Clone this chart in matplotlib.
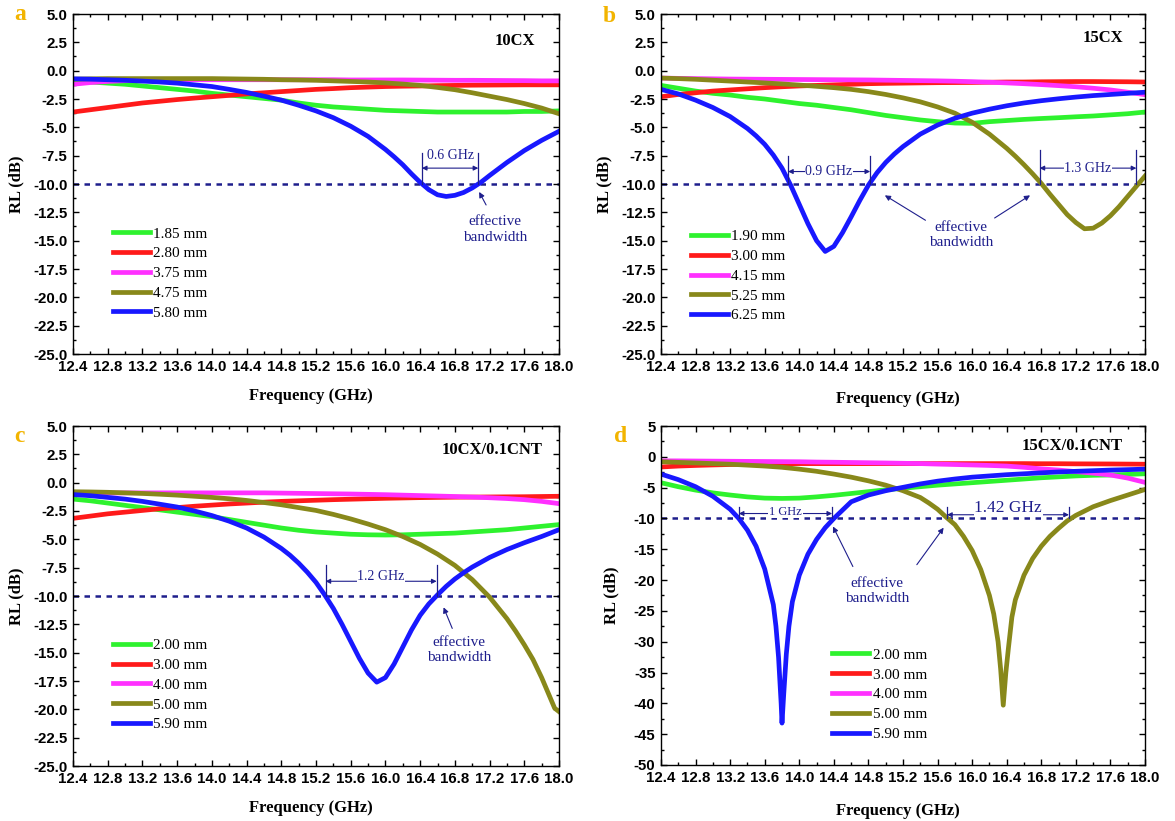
import numpy as np
import matplotlib
matplotlib.use('Agg')
import matplotlib.pyplot as plt
from matplotlib.ticker import MultipleLocator, FormatStrFormatter

plt.rcParams['axes.unicode_minus'] = False
plt.rcParams['font.family'] = 'Liberation Sans'

# common frequency grid (GHz)
grid = [12.4, 12.6, 12.8, 13.0, 13.2, 13.4, 13.6, 13.8, 14.0, 14.2, 14.4, 14.6, 14.8, 15.0,
        15.2, 15.4, 15.6, 15.8, 16.0, 16.2, 16.4, 16.6, 16.8, 17.0, 17.2, 17.4, 17.6, 17.8, 18.0]

# ---- a : 10CX ----
a_labels = ['1.85 mm', '2.80 mm', '3.75 mm', '4.75 mm', '5.80 mm']
a_185 = [-0.95, -1.0, -1.1, -1.2, -1.35, -1.5, -1.65, -1.8, -2.0, -2.15, -2.3, -2.45, -2.6, -2.85,
         -3.05, -3.2, -3.3, -3.4, -3.5, -3.55, -3.6, -3.65, -3.65, -3.65, -3.65, -3.65, -3.6, -3.6, -3.55]
a_280 = [-3.65, -3.45, -3.25, -3.05, -2.85, -2.7, -2.55, -2.42, -2.3, -2.18, -2.05, -1.95, -1.85, -1.75,
         -1.65, -1.58, -1.5, -1.45, -1.4, -1.37, -1.35, -1.32, -1.3, -1.28, -1.27, -1.26, -1.25, -1.25, -1.25]
a_375 = [-1.2, -1.05, -0.95, -0.88, -0.85, -0.82, -0.8, -0.8, -0.8, -0.8, -0.8, -0.8, -0.8, -0.8,
         -0.8, -0.8, -0.82, -0.82, -0.82, -0.82, -0.83, -0.84, -0.85, -0.85, -0.86, -0.87, -0.88, -0.9, -0.9]
a_475 = [-0.75, -0.72, -0.7, -0.7, -0.7, -0.7, -0.7, -0.7, -0.7, -0.72, -0.74, -0.76, -0.8, -0.82,
         -0.85, -0.9, -0.95, -1.0, -1.08, -1.18, -1.3, -1.48, -1.68, -1.95, -2.25, -2.55, -2.9, -3.3, -3.8]
a_580_f = [12.4, 12.6, 12.8, 13.0, 13.2, 13.4, 13.6, 13.8, 14.0, 14.2, 14.4, 14.6, 14.8, 15.0, 15.2, 15.4,
           15.6, 15.8, 16.0, 16.1, 16.2, 16.3, 16.4, 16.5, 16.6, 16.7, 16.8, 16.9, 17.0, 17.1, 17.2,
           17.4, 17.6, 17.8, 18.0]
a_580 = [-0.72, -0.75, -0.8, -0.85, -0.92, -1.0, -1.1, -1.25, -1.4, -1.65, -1.92, -2.25, -2.6, -3.05, -3.55, -4.15,
         -4.9, -5.8, -6.95, -7.6, -8.3, -9.1, -9.85, -10.5, -10.95, -11.1, -11.0, -10.75, -10.35, -9.85, -9.25,
         -8.1, -7.05, -6.15, -5.35]

# ---- b : 15CX ----
b_labels = ['1.90 mm', '3.00 mm', '4.15 mm', '5.25 mm', '6.25 mm']
b_190 = [-1.3, -1.55, -1.8, -2.0, -2.15, -2.35, -2.5, -2.7, -2.9, -3.05, -3.25, -3.45, -3.7, -3.95,
         -4.15, -4.35, -4.5, -4.62, -4.65, -4.5, -4.4, -4.3, -4.22, -4.15, -4.07, -4.0, -3.9, -3.8, -3.65]
b_300 = [-2.3, -2.1, -1.95, -1.8, -1.7, -1.6, -1.5, -1.42, -1.35, -1.3, -1.25, -1.2, -1.15, -1.12,
         -1.1, -1.08, -1.06, -1.05, -1.04, -1.02, -1.0, -1.0, -0.98, -0.97, -0.96, -0.96, -0.97, -0.98, -1.0]
b_415 = [-0.65, -0.68, -0.7, -0.72, -0.74, -0.75, -0.76, -0.77, -0.78, -0.79, -0.8, -0.81, -0.82, -0.84,
         -0.86, -0.88, -0.9, -0.93, -0.97, -1.02, -1.08, -1.15, -1.23, -1.32, -1.42, -1.55, -1.7, -1.9, -2.12]
b_525_f = [12.4, 12.6, 12.8, 13.0, 13.2, 13.4, 13.6, 13.8, 14.0, 14.2, 14.4, 14.6, 14.8, 15.0, 15.2, 15.4,
           15.6, 15.8, 16.0, 16.2, 16.4, 16.5, 16.6, 16.7, 16.8, 16.9, 17.0, 17.1, 17.2, 17.3, 17.4, 17.5,
           17.6, 17.7, 17.8, 17.9, 18.0]
b_525 = [-0.65, -0.7, -0.76, -0.84, -0.92, -1.0, -1.08, -1.17, -1.27, -1.38, -1.5, -1.65, -1.85, -2.1, -2.4, -2.75,
         -3.2, -3.75, -4.55, -5.6, -6.85, -7.55, -8.3, -9.1, -9.95, -10.9, -11.8, -12.7, -13.4, -13.95, -13.9, -13.45,
         -12.8, -12.0, -11.1, -10.2, -9.3]
b_625_f = [12.4, 12.6, 12.8, 13.0, 13.2, 13.4, 13.5, 13.6, 13.7, 13.8, 13.9, 14.0, 14.1, 14.2, 14.3, 14.4,
           14.5, 14.6, 14.7, 14.8, 14.9, 15.0, 15.1, 15.2, 15.4, 15.6, 15.8, 16.0, 16.2, 16.4, 16.6, 16.8,
           17.0, 17.2, 17.4, 17.6, 17.8, 18.0]
b_625 = [-1.65, -2.05, -2.6, -3.25, -4.05, -5.1, -5.75, -6.5, -7.45, -8.6, -10.1, -11.8, -13.5, -15.0, -15.95, -15.5,
         -14.3, -12.9, -11.45, -10.1, -9.0, -8.1, -7.35, -6.7, -5.6, -4.8, -4.2, -3.75, -3.4, -3.1, -2.85, -2.65,
         -2.48, -2.33, -2.2, -2.1, -2.0, -1.9]

# ---- c : 10CX/0.1CNT ----
c_labels = ['2.00 mm', '3.00 mm', '4.00 mm', '5.00 mm', '5.90 mm']
c_200 = [-1.45, -1.6, -1.8, -2.0, -2.2, -2.4, -2.6, -2.8, -3.0, -3.25, -3.5, -3.75, -4.0, -4.2,
         -4.35, -4.45, -4.55, -4.6, -4.62, -4.6, -4.55, -4.5, -4.45, -4.35, -4.25, -4.15, -4.0, -3.85, -3.7]
c_300 = [-3.15, -2.95, -2.75, -2.6, -2.45, -2.3, -2.2, -2.08, -1.98, -1.88, -1.8, -1.72, -1.65, -1.6,
         -1.55, -1.5, -1.46, -1.42, -1.38, -1.35, -1.32, -1.3, -1.28, -1.27, -1.26, -1.25, -1.24, -1.22, -1.2]
c_400 = [-1.0, -0.95, -0.92, -0.9, -0.9, -0.9, -0.9, -0.9, -0.9, -0.9, -0.9, -0.9, -0.92, -0.94,
         -0.96, -0.98, -1.0, -1.03, -1.06, -1.1, -1.14, -1.18, -1.22, -1.27, -1.33, -1.4, -1.5, -1.65, -1.85]
c_500_f = [12.4, 12.6, 12.8, 13.0, 13.2, 13.4, 13.6, 13.8, 14.0, 14.2, 14.4, 14.6, 14.8, 15.0, 15.2, 15.4,
           15.6, 15.8, 16.0, 16.2, 16.4, 16.6, 16.8, 17.0, 17.2, 17.4, 17.5, 17.6, 17.7, 17.8, 17.9, 17.95, 18.0]
c_500 = [-0.8, -0.82, -0.85, -0.9, -0.95, -1.02, -1.1, -1.2, -1.3, -1.42, -1.57, -1.75, -1.95, -2.2, -2.45, -2.8,
         -3.2, -3.65, -4.15, -4.75, -5.45, -6.3, -7.3, -8.55, -10.1, -12.0, -13.1, -14.3, -15.6, -17.2, -19.0, -19.9, -20.2]
c_590_f = [12.4, 12.6, 12.8, 13.0, 13.2, 13.4, 13.6, 13.8, 14.0, 14.2, 14.4, 14.6, 14.8,
           14.9, 15.0, 15.1, 15.2, 15.3, 15.4, 15.5, 15.6, 15.7, 15.8, 15.9, 16.0, 16.1, 16.2, 16.3, 16.4,
           16.5, 16.6, 16.7, 16.8, 16.9, 17.0, 17.2, 17.4, 17.6, 17.8, 18.0]
c_590 = [-1.05, -1.15, -1.3, -1.45, -1.65, -1.9, -2.15, -2.5, -2.9, -3.4, -4.0, -4.8, -5.8,
         -6.4, -7.1, -7.9, -8.8, -9.9, -11.1, -12.5, -14.0, -15.5, -16.8, -17.6, -17.2, -16.0, -14.5, -13.0, -11.7,
         -10.7, -9.9, -9.15, -8.5, -7.95, -7.45, -6.6, -5.9, -5.3, -4.75, -4.15]

# ---- d : 15CX/0.1CNT ----
d_labels = ['2.00 mm', '3.00 mm', '4.00 mm', '5.00 mm', '5.90 mm']
d_200 = [-4.2, -4.85, -5.4, -5.85, -6.2, -6.5, -6.7, -6.75, -6.7, -6.5, -6.25, -5.95, -5.65, -5.35,
         -5.1, -4.85, -4.6, -4.4, -4.2, -4.0, -3.8, -3.6, -3.4, -3.25, -3.1, -3.0, -2.95, -2.85, -2.75]
d_300 = [-1.65, -1.5, -1.4, -1.32, -1.25, -1.2, -1.15, -1.12, -1.1, -1.1, -1.1, -1.1, -1.1, -1.1,
         -1.1, -1.1, -1.1, -1.1, -1.1, -1.1, -1.1, -1.1, -1.12, -1.12, -1.14, -1.15, -1.16, -1.18, -1.2]
d_400 = [-0.65, -0.66, -0.68, -0.7, -0.72, -0.74, -0.76, -0.78, -0.8, -0.85, -0.88, -0.92, -0.96, -1.0,
         -1.05, -1.1, -1.18, -1.25, -1.32, -1.4, -1.5, -1.7, -1.95, -2.15, -2.4, -2.65, -2.95, -3.45, -4.15]
d_500_f = [12.4, 12.6, 12.8, 13.0, 13.2, 13.4, 13.6, 13.8, 14.0, 14.2, 14.4, 14.6, 14.8, 15.0, 15.2, 15.4,
           15.5, 15.6, 15.7, 15.8, 15.9, 16.0, 16.1, 16.2,
           16.25, 16.3, 16.33, 16.36, 16.39, 16.42, 16.46, 16.5,
           16.6, 16.7, 16.8, 16.9, 17.0, 17.1, 17.2, 17.4, 17.6, 17.8, 18.0]
d_500 = [-0.8, -0.9, -1.0, -1.1, -1.2, -1.35, -1.5, -1.7, -2.0, -2.35, -2.8, -3.3, -3.9, -4.6, -5.5, -6.6,
         -7.5, -8.5, -9.8, -11.0, -12.9, -15.2, -18.3, -22.5,
         -25.5, -30.0, -34.5, -40.3, -35.0, -31.0, -26.0, -23.2,
         -19.2, -16.5, -14.5, -12.9, -11.6, -10.4, -9.5, -8.1, -7.1, -6.2, -5.3]
d_590_f = [12.4, 12.6, 12.8, 13.0, 13.2, 13.3, 13.4, 13.5, 13.6, 13.7,
           13.73, 13.76, 13.79, 13.8, 13.82, 13.85, 13.88, 13.92,
           14.0, 14.1, 14.2, 14.3, 14.4, 14.6, 14.8, 15.0, 15.2, 15.4, 15.6, 15.8, 16.0,
           16.2, 16.4, 16.6, 16.8, 17.0, 17.2, 17.4, 17.6, 17.8, 18.0]
d_590 = [-2.8, -3.7, -4.85, -6.4, -8.5, -10.0, -11.9, -14.5, -18.2, -24.0,
         -27.5, -32.5, -40.0, -43.2, -38.5, -32.0, -27.5, -23.5,
         -19.2, -15.8, -13.4, -11.5, -10.0, -7.3, -6.2, -5.5, -4.95, -4.4, -3.95, -3.6, -3.3,
         -3.1, -2.9, -2.75, -2.6, -2.45, -2.35, -2.25, -2.15, -2.08, -2.0]

colors = ['#2ef22e', '#ff1a1a', '#ff30ff', '#88881a', '#1818ff']
navy = '#1e1e8c'
gold = '#f2b400'
serif = 'Liberation Serif'

W, H = 1175, 821
fig = plt.figure(figsize=(W / 100, H / 100), dpi=100)


def make_ax(l, t, r, b):
    return fig.add_axes([l / W, 1 - b / H, (r - l) / W, (b - t) / H])


def style(ax, ylo, yhi, ystep, fmt, ylab_x, xlab_y):
    ax.set_xlim(12.4, 18.0)
    ax.set_ylim(ylo, yhi)
    ax.xaxis.set_major_locator(MultipleLocator(0.4))
    ax.xaxis.set_minor_locator(MultipleLocator(0.2))
    ax.yaxis.set_major_locator(MultipleLocator(ystep))
    ax.yaxis.set_minor_locator(MultipleLocator(ystep / 2))
    ax.xaxis.set_major_formatter(FormatStrFormatter('%.1f'))
    ax.yaxis.set_major_formatter(FormatStrFormatter(fmt))
    ax.tick_params(which='both', direction='in', top=True, right=True, width=1)
    ax.tick_params(which='major', length=4.5, labelsize=10.8, pad=4)
    ax.tick_params(which='minor', length=2.5)
    for lab in ax.get_xticklabels() + ax.get_yticklabels():
        lab.set_fontweight('bold')
    for s in ax.spines.values():
        s.set_linewidth(1.0)
    ax.set_xlabel('Frequency (GHz)', fontfamily=serif, fontweight='bold', fontsize=12)
    ax.set_ylabel('RL (dB)', fontfamily=serif, fontweight='bold', fontsize=12)
    ax.xaxis.set_label_coords(0.49, xlab_y)
    ax.yaxis.set_label_coords(ylab_x, 0.5)
    ax.axhline(-10, color=navy, ls=(0, (2.2, 2.2)), lw=1.8, zorder=1)


def curves(ax, xs, ys, labels, lx, ly):
    handles = []
    for x, y, c, lab in zip(xs, ys, colors, labels):
        h, = ax.plot(x, y, color=c, lw=3.4, label=lab, zorder=2)
        handles.append(h)
    ax.legend(handles=handles, loc='upper left', bbox_to_anchor=(lx, ly), frameon=False,
              prop={'family': serif, 'size': 11}, handlelength=2.4, handletextpad=0.25,
              labelspacing=0.4, borderpad=0, borderaxespad=0)


def bandwidth(ax, x1, x2, ytop, yarr, text, ytext, fs, box=True):
    for x in (x1, x2):
        ax.plot([x, x], [ytop, -10], color=navy, lw=0.9, zorder=3)
    ax.annotate('', xy=(x1, yarr), xytext=(x2, yarr),
                arrowprops=dict(arrowstyle='<|-|>', color=navy, lw=0.8, mutation_scale=7,
                                shrinkA=0, shrinkB=0), zorder=3)
    bb = dict(fc='white', ec='none', pad=0.5) if box else None
    ax.text((x1 + x2) / 2, ytext, text, ha='center', va='center', fontfamily=serif,
            fontsize=fs, color=navy, bbox=bb, zorder=4)


def effective(ax, x, y, arrows):
    ax.text(x, y, 'effective\nbandwidth', ha='center', va='center', fontfamily=serif,
            fontsize=11, color=navy, linespacing=1.25, zorder=4)
    for (x0, y0), (x1, y1) in arrows:
        ax.annotate('', xy=(x1, y1), xytext=(x0, y0),
                    arrowprops=dict(arrowstyle='-|>', color=navy, lw=0.8, mutation_scale=8,
                                    shrinkA=0, shrinkB=0), zorder=4)


def sample(ax, text, x, y):
    ax.text(x, y, text, transform=ax.transAxes, ha='right', va='center', fontfamily=serif,
            fontweight='bold', fontsize=12)


# panel a
ax = make_ax(73, 14, 559, 354)
style(ax, -25, 5, 2.5, '%.1f', -0.10, -0.10)
curves(ax, [grid, grid, grid, grid, a_580_f], [a_185, a_280, a_375, a_475, a_580], a_labels, 0.082, 0.374)
bandwidth(ax, 16.42, 17.07, -7.3, -8.6, '0.6 GHz', -7.45, 10, box=False)
effective(ax, 17.26, -14.0, [((17.16, -11.85), (17.08, -10.7))])
sample(ax, '10CX', 0.951, 0.92)

# panel b
ax = make_ax(661, 14, 1145, 354)
style(ax, -25, 5, 2.5, '%.1f', -0.10, -0.11)
curves(ax, [grid, grid, grid, b_525_f, b_625_f], [b_190, b_300, b_415, b_525, b_625], b_labels, 0.062, 0.366)
bandwidth(ax, 13.87, 14.82, -7.5, -8.9, '0.9 GHz', -8.9, 10)
bandwidth(ax, 16.78, 17.9, -7.0, -8.6, '1.3 GHz', -8.6, 10)
effective(ax, 15.87, -14.5, [((15.46, -13.2), (14.99, -11.0)), ((16.26, -13.0), (16.67, -11.0))])
sample(ax, '15CX', 0.955, 0.93)

# panel c
ax = make_ax(73, 426, 559, 766)
style(ax, -25, 5, 2.5, '%.1f', -0.10, -0.10)
curves(ax, [grid, grid, grid, c_500_f, c_590_f], [c_200, c_300, c_400, c_500, c_590], c_labels, 0.082, 0.375)
bandwidth(ax, 15.31, 16.59, -7.3, -8.7, '1.2 GHz', -8.25, 10)
effective(ax, 16.85, -14.75, [((16.77, -12.86), (16.67, -11.0))])
sample(ax, '10CX/0.1CNT', 0.967, 0.93)

# panel d
ax = make_ax(661, 426, 1145, 765)
style(ax, -50, 5, 5, '%d', -0.087, -0.112)
curves(ax, [grid, grid, grid, d_500_f, d_590_f], [d_200, d_300, d_400, d_500, d_590], d_labels, 0.354, 0.345)
bandwidth(ax, 13.3, 14.38, -8.1, -9.2, '1 GHz', -8.9, 9)
bandwidth(ax, 15.71, 17.12, -8.1, -9.4, '1.42 GHz', -8.25, 12.5)
effective(ax, 14.9, -21.8, [((14.62, -17.8), (14.39, -11.3)), ((15.36, -17.5), (15.67, -11.5))])
sample(ax, '15CX/0.1CNT', 0.955, 0.94)

# panel letters
for letter, px, py in [('a', 20, 15), ('b', 609, 17), ('c', 19, 436), ('d', 621, 436)]:
    fig.text(px / W, 1 - py / H, letter, ha='center', va='center', fontfamily=serif,
             fontweight='bold', fontsize=17, color=gold)

fig.savefig('out.png', dpi=100)
